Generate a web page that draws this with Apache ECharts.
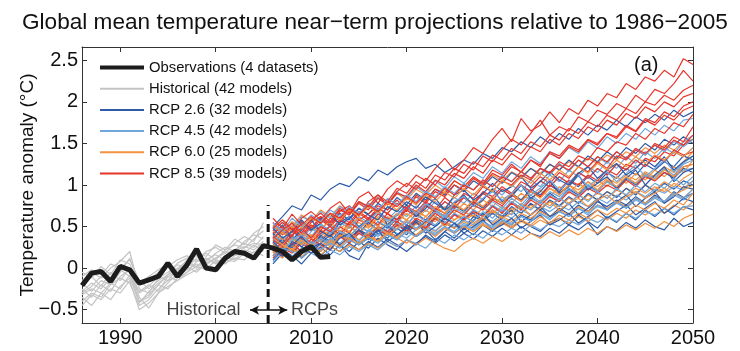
<!DOCTYPE html>
<html>
<head>
<meta charset="utf-8">
<script src="https://cdn.jsdelivr.net/npm/echarts@6.0.0/dist/echarts.min.js"></script>
<style>
html, body { margin: 0; padding: 0; background: #fff; }
#main { width: 740px; height: 351px; }
</style>
</head>
<body>
<div id="main"></div>
<script>
// years
var obsYears = [1986,1987,1988,1989,1990,1991,1992,1993,1994,1995,1996,1997,1998,1999,2000,
  2001,2002,2003,2004,2005,2006,2007,2008,2009,2010,2011,2012];
var histYears = [1986,1987,1988,1989,1990,1991,1992,1993,1994,1995,1996,1997,1998,1999,2000,
  2001,2002,2003,2004,2005];
var rcpYears = [2006,2007,2008,2009,2010,2011,2012,2013,2014,2015,2016,2017,2018,2019,2020,
  2021,2022,2023,2024,2025,2026,2027,2028,2029,2030,2031,2032,2033,2034,2035,
  2036,2037,2038,2039,2040,2041,2042,2043,2044,2045,2046,2047,2048,2049,2050];

var xTicks = [1990, 2000, 2010, 2020, 2030, 2040, 2050];
var yTicks = [-0.5, 0, 0.5, 1, 1.5, 2, 2.5];

// observations (multi-dataset mean), degC
var obs = [-0.21,-0.06,-0.04,-0.16,0.02,-0.02,-0.18,-0.14,-0.10,0.06,-0.10,0.04,0.23,0.00,-0.02,
  0.12,0.20,0.18,0.12,0.27,0.24,0.20,0.10,0.20,0.26,0.13,0.14];

// historical model runs 1986-2005
var hist = [
  [-0.30,-0.22,-0.10,-0.15,0.02,-0.05,-0.40,-0.32,-0.20,-0.08,-0.02,0.05,0.10,0.04,0.12,0.18,0.22,0.30,0.25,0.38],
  [-0.15,-0.05,-0.12,0.00,0.08,0.20,-0.25,-0.30,-0.12,-0.05,0.04,0.00,0.12,0.18,0.10,0.22,0.28,0.24,0.35,0.45],
  [-0.40,-0.30,-0.35,-0.20,-0.12,-0.18,-0.45,-0.38,-0.25,-0.15,-0.10,-0.02,0.05,0.00,0.08,0.05,0.15,0.20,0.14,0.25],
  [-0.05,-0.12,0.02,-0.08,0.10,0.05,-0.20,-0.15,-0.05,0.02,0.10,0.15,0.08,0.20,0.25,0.18,0.30,0.38,0.32,0.55],
  [-0.25,-0.35,-0.20,-0.28,-0.10,-0.02,-0.35,-0.48,-0.30,-0.18,-0.06,0.02,-0.05,0.06,0.12,0.20,0.15,0.25,0.30,0.28],
  [-0.20,-0.10,-0.22,-0.05,-0.15,0.00,-0.30,-0.22,-0.10,-0.15,0.00,0.08,0.02,0.12,0.05,0.15,0.22,0.18,0.28,0.20],
  [-0.35,-0.45,-0.30,-0.38,-0.22,-0.12,-0.40,-0.35,-0.20,-0.25,-0.12,-0.05,0.02,-0.02,0.10,0.06,0.12,0.10,0.20,0.15],
  [-0.10,-0.02,-0.08,0.05,0.00,0.10,-0.15,-0.25,-0.15,-0.08,0.06,0.12,0.20,0.14,0.28,0.22,0.35,0.28,0.42,0.50],
  [-0.28,-0.18,-0.25,-0.12,-0.02,-0.10,-0.28,-0.20,-0.28,-0.10,-0.04,0.06,0.00,0.10,0.16,0.10,0.20,0.26,0.22,0.32],
  [-0.45,-0.32,-0.38,-0.25,-0.30,-0.15,-0.50,-0.42,-0.30,-0.22,-0.15,-0.08,-0.02,0.04,0.00,0.10,0.08,0.18,0.12,0.22],
  [-0.18,-0.28,-0.15,-0.20,-0.05,0.12,-0.18,-0.10,-0.02,0.05,-0.02,0.10,0.15,0.08,0.18,0.25,0.20,0.32,0.40,0.35],
  [-0.32,-0.25,-0.30,-0.18,-0.25,-0.08,-0.42,-0.28,-0.18,-0.10,-0.15,-0.05,0.08,0.12,0.06,0.14,0.10,0.22,0.18,0.30]
];

// RCP 2.6 runs 2006-2050
var rcp26 = [
  [0.50,0.62,0.75,0.70,0.88, 0.82,0.95,1.02,0.98,1.10, 1.05,1.18,1.12,1.22,1.28, 1.32,1.20,1.25,1.15,1.22,
   1.30,1.25,1.38,1.32,1.45, 1.40,1.52,1.45,1.58,1.50, 1.62,1.55,1.68,1.60,1.72, 1.66,1.78,1.70,1.82,1.75, 1.85,1.78,1.90,1.82,1.88],
  [0.35,0.45,0.38,0.55,0.48, 0.60,0.52,0.66,0.58,0.72, 0.65,0.78,0.70,0.85,0.76, 0.90,0.82,0.95,0.88,1.00,
   0.92,1.05,0.98,1.10,1.02, 1.15,1.08,1.20,1.12,1.25, 1.18,1.30,1.22,1.35,1.28, 1.40,1.32,1.45,1.38,1.50, 1.42,1.55,1.48,1.58,1.50],
  [0.15,0.28,0.20,0.35,0.25, 0.40,0.32,0.45,0.38,0.50, 0.44,0.56,0.48,0.60,0.52, 0.65,0.58,0.70,0.62,0.75,
   0.68,0.80,0.72,0.85,0.78, 0.90,0.82,0.95,0.88,1.00, 0.92,1.05,0.98,1.10,1.02, 1.15,1.08,1.20,1.12,1.25, 1.18,1.28,1.22,1.35,1.30],
  [0.05,0.18,0.30,0.12,0.25, 0.20,0.35,0.28,0.15,0.10, 0.30,0.42,0.36,0.48,0.40, 0.55,0.46,0.60,0.52,0.65,
   0.58,0.70,0.62,0.75,0.68, 0.80,0.72,0.85,0.78,0.90, 0.82,0.95,0.88,1.00,0.92, 1.05,0.96,1.08,1.00,1.12, 1.05,1.15,1.08,1.20,1.15],
  [0.42,0.30,0.38,0.25,0.40, 0.32,0.45,0.38,0.50,0.42, 0.55,0.46,0.40,0.52,0.45, 0.58,0.50,0.62,0.55,0.48,
   0.60,0.66,0.58,0.70,0.62, 0.74,0.66,0.78,0.70,0.82, 0.75,0.86,0.78,0.90,0.82, 0.92,0.85,0.96,0.88,1.00, 0.92,1.02,0.95,1.05,1.00],
  [0.25,0.35,0.22,0.32,0.28, 0.38,0.30,0.42,0.35,0.46, 0.40,0.50,0.44,0.38,0.52, 0.46,0.56,0.50,0.60,0.54,
   0.48,0.62,0.56,0.66,0.58, 0.52,0.64,0.58,0.70,0.62, 0.72,0.65,0.76,0.68,0.80, 0.74,0.82,0.76,0.86,0.78, 0.88,0.80,0.92,0.85,0.90],
  [0.10,0.22,0.15,0.05,0.18, 0.25,0.16,0.28,0.20,0.32, 0.24,0.36,0.28,0.22,0.34, 0.28,0.40,0.32,0.44,0.36,
   0.48,0.40,0.52,0.44,0.56, 0.48,0.58,0.50,0.44,0.55, 0.60,0.52,0.64,0.56,0.48, 0.62,0.55,0.66,0.58,0.70, 0.62,0.72,0.64,0.74,0.70],
  [0.30,0.18,0.25,0.12,0.22, 0.15,0.26,0.20,0.30,0.22, 0.32,0.25,0.35,0.28,0.20, 0.30,0.38,0.30,0.40,0.33,
   0.42,0.35,0.45,0.38,0.48, 0.40,0.50,0.42,0.38,0.48, 0.42,0.52,0.46,0.55,0.40, 0.50,0.45,0.55,0.48,0.58, 0.50,0.46,0.60,0.50,0.55],
  [0.40,0.52,0.34,0.46,0.58, 0.44,0.38,0.55,0.62,0.50, 0.58,0.70,0.52,0.64,0.76, 0.62,0.72,0.84,0.70,0.78,
   0.88,0.74,0.82,0.95,0.80, 0.86,1.00,0.84,0.92,1.05, 0.90,0.98,1.12,0.94,1.02, 1.10,0.96,1.08,1.18,1.00, 1.12,1.22,1.04,1.15,1.20],
  [0.22,0.14,0.32,0.26,0.18, 0.30,0.40,0.28,0.36,0.46, 0.34,0.44,0.52,0.40,0.48, 0.56,0.42,0.50,0.60,0.54,
   0.46,0.58,0.66,0.52,0.60, 0.70,0.56,0.64,0.74,0.62, 0.68,0.78,0.64,0.72,0.82, 0.70,0.80,0.88,0.74,0.84, 0.92,0.78,0.86,0.98,0.95],
  [0.48,0.36,0.44,0.58,0.46, 0.54,0.66,0.52,0.60,0.72, 0.64,0.58,0.74,0.68,0.80, 0.72,0.86,0.78,0.70,0.88,
   0.94,0.82,0.90,1.02,0.92, 0.98,1.10,0.96,1.04,1.16, 1.06,1.00,1.14,1.22,1.08, 1.18,1.26,1.12,1.20,1.30, 1.22,1.34,1.18,1.28,1.35],
  [0.32,0.20,0.28,0.38,0.24, 0.30,0.22,0.36,0.42,0.28, 0.36,0.46,0.32,0.40,0.50, 0.38,0.46,0.34,0.44,0.54,
   0.42,0.50,0.58,0.46,0.52, 0.60,0.48,0.56,0.64,0.52, 0.58,0.66,0.54,0.62,0.70, 0.60,0.68,0.76,0.64,0.72, 0.80,0.66,0.74,0.84,0.80]
];

// RCP 4.5 runs
var rcp45 = [
  [0.45,0.55,0.48,0.62,0.56, 0.68,0.60,0.74,0.66,0.80, 0.72,0.85,0.78,0.92,0.84, 0.98,0.90,1.05,0.96,1.10,
   1.02,1.15,1.08,1.22,1.14, 1.28,1.20,1.34,1.26,1.40, 1.32,1.45,1.38,1.52,1.44, 1.58,1.50,1.62,1.55,1.68, 1.60,1.72,1.65,1.78,1.80],
  [0.28,0.38,0.32,0.45,0.36, 0.50,0.42,0.55,0.48,0.60, 0.52,0.65,0.58,0.70,0.62, 0.75,0.68,0.80,0.72,0.85,
   0.78,0.90,0.82,0.96,0.88, 1.00,0.92,1.06,0.98,1.12, 1.04,1.18,1.10,1.22,1.15, 1.28,1.20,1.34,1.26,1.40, 1.32,1.45,1.38,1.52,1.60],
  [0.50,0.40,0.55,0.45,0.38, 0.52,0.46,0.58,0.50,0.62, 0.55,0.68,0.60,0.54,0.70, 0.64,0.76,0.68,0.80,0.72,
   0.85,0.78,0.90,0.82,0.95, 0.88,1.00,0.92,1.05,0.98, 1.10,1.02,1.15,1.08,1.20, 1.12,1.25,1.18,1.30,1.22, 1.35,1.28,1.40,1.34,1.45],
  [0.18,0.30,0.24,0.36,0.28, 0.22,0.34,0.40,0.32,0.44, 0.38,0.48,0.42,0.54,0.46, 0.58,0.50,0.62,0.55,0.66,
   0.60,0.70,0.64,0.76,0.68, 0.80,0.72,0.84,0.78,0.88, 0.82,0.94,0.86,0.98,0.92, 1.04,0.96,1.08,1.02,1.14, 1.08,1.20,1.12,1.25,1.30],
  [0.40,0.32,0.44,0.36,0.48, 0.40,0.52,0.45,0.38,0.50, 0.44,0.56,0.50,0.60,0.52, 0.64,0.56,0.68,0.60,0.72,
   0.66,0.76,0.70,0.80,0.72, 0.84,0.76,0.88,0.80,0.92, 0.86,0.96,0.90,1.00,0.94, 1.04,0.98,1.08,1.02,1.12, 1.06,1.15,1.10,1.18,1.20],
  [0.22,0.15,0.28,0.20,0.32, 0.26,0.36,0.30,0.40,0.34, 0.44,0.38,0.48,0.42,0.36, 0.46,0.52,0.45,0.55,0.50,
   0.58,0.52,0.62,0.56,0.66, 0.60,0.70,0.64,0.74,0.68, 0.76,0.70,0.80,0.74,0.84, 0.78,0.88,0.82,0.92,0.86, 0.95,0.90,0.98,0.94,1.05],
  [0.35,0.26,0.38,0.30,0.24, 0.34,0.28,0.38,0.32,0.42, 0.36,0.46,0.40,0.34,0.44, 0.38,0.48,0.42,0.50,0.44,
   0.54,0.48,0.56,0.50,0.60, 0.54,0.62,0.56,0.66,0.60, 0.68,0.62,0.72,0.66,0.74, 0.70,0.78,0.72,0.82,0.76, 0.84,0.78,0.88,0.82,0.90],
  [0.08,0.20,0.14,0.24,0.18, 0.12,0.22,0.16,0.26,0.20, 0.28,0.22,0.32,0.26,0.34, 0.30,0.24,0.36,0.30,0.40,
   0.34,0.42,0.36,0.46,0.40, 0.48,0.42,0.52,0.46,0.54, 0.50,0.58,0.52,0.60,0.55, 0.62,0.56,0.66,0.60,0.68, 0.64,0.72,0.66,0.74,0.75],
  [0.36,0.48,0.40,0.30,0.44, 0.54,0.42,0.50,0.62,0.48, 0.58,0.68,0.56,0.64,0.74, 0.66,0.78,0.70,0.62,0.80,
   0.86,0.74,0.84,0.92,0.82, 0.90,1.00,0.88,0.96,1.06, 0.94,1.04,1.12,0.98,1.08, 1.16,1.04,1.14,1.24,1.10, 1.20,1.30,1.16,1.26,1.35],
  [0.26,0.18,0.34,0.40,0.28, 0.36,0.30,0.44,0.38,0.32, 0.46,0.40,0.52,0.46,0.56, 0.48,0.58,0.52,0.64,0.54,
   0.62,0.56,0.68,0.60,0.72, 0.64,0.76,0.70,0.80,0.72, 0.84,0.76,0.88,0.80,0.92, 0.84,0.96,0.88,1.00,0.92, 1.02,0.96,1.08,1.00,1.10],
  [0.54,0.44,0.60,0.50,0.64, 0.56,0.70,0.62,0.74,0.66, 0.78,0.70,0.84,0.76,0.88, 0.80,0.92,0.86,0.98,0.90,
   1.02,0.94,1.06,0.98,1.12, 1.04,1.16,1.08,1.20,1.12, 1.26,1.16,1.30,1.22,1.34, 1.26,1.40,1.32,1.44,1.36, 1.48,1.40,1.52,1.46,1.55],
  [0.14,0.24,0.20,0.12,0.26, 0.22,0.30,0.24,0.34,0.28, 0.36,0.30,0.40,0.34,0.44, 0.38,0.46,0.40,0.50,0.42,
   0.52,0.46,0.56,0.48,0.58, 0.52,0.62,0.56,0.66,0.58, 0.68,0.62,0.72,0.64,0.76, 0.70,0.80,0.72,0.84,0.76, 0.86,0.80,0.90,0.84,0.95]
];

// RCP 6.0 runs
var rcp60 = [
  [0.48,0.58,0.50,0.64,0.56, 0.70,0.62,0.75,0.68,0.80, 0.74,0.85,0.78,0.90,0.82, 0.95,0.88,1.00,0.92,1.05,
   0.98,1.08,1.02,1.12,1.05, 1.16,1.10,1.20,1.14,1.25, 1.18,1.28,1.22,1.32,1.26, 1.36,1.30,1.40,1.34,1.45, 1.38,1.48,1.42,1.52,1.55],
  [0.25,0.36,0.30,0.42,0.34, 0.46,0.40,0.50,0.44,0.55, 0.48,0.60,0.52,0.64,0.58, 0.68,0.62,0.72,0.66,0.76,
   0.70,0.80,0.74,0.84,0.78, 0.88,0.82,0.92,0.86,0.96, 0.90,1.00,0.94,1.04,0.98, 1.08,1.02,1.12,1.06,1.16, 1.10,1.22,1.15,1.28,1.40],
  [0.40,0.30,0.45,0.38,0.50, 0.42,0.36,0.48,0.55,0.46, 0.58,0.50,0.62,0.55,0.66, 0.58,0.70,0.62,0.74,0.66,
   0.78,0.70,0.82,0.74,0.86, 0.78,0.90,0.82,0.94,0.86, 0.98,0.90,1.02,0.94,1.06, 0.98,1.10,1.02,1.14,1.06, 1.18,1.10,1.22,1.15,1.30],
  [0.15,0.26,0.20,0.32,0.24, 0.36,0.28,0.40,0.34,0.44, 0.38,0.48,0.42,0.52,0.46, 0.56,0.50,0.60,0.54,0.48,
   0.58,0.64,0.56,0.68,0.62, 0.72,0.66,0.76,0.70,0.80, 0.74,0.84,0.78,0.88,0.82, 0.92,0.86,0.96,0.90,1.00, 0.94,1.04,0.98,1.08,1.15],
  [0.32,0.42,0.36,0.28,0.40, 0.34,0.46,0.38,0.50,0.42, 0.52,0.46,0.56,0.50,0.58, 0.52,0.62,0.56,0.66,0.58,
   0.68,0.62,0.72,0.66,0.74, 0.68,0.78,0.72,0.82,0.75, 0.84,0.78,0.88,0.82,0.90, 0.84,0.94,0.88,0.96,0.90, 0.98,0.92,1.02,0.96,1.05],
  [0.20,0.12,0.25,0.18,0.30, 0.24,0.34,0.28,0.38,0.30, 0.40,0.34,0.44,0.38,0.46, 0.40,0.50,0.44,0.54,0.48,
   0.56,0.50,0.60,0.54,0.62, 0.56,0.66,0.60,0.68,0.62, 0.70,0.64,0.74,0.68,0.76, 0.72,0.80,0.74,0.84,0.78, 0.86,0.80,0.90,0.84,0.95],
  [0.36,0.28,0.40,0.32,0.26, 0.36,0.30,0.40,0.34,0.28, 0.38,0.32,0.42,0.36,0.44, 0.38,0.46,0.40,0.48,0.42,
   0.50,0.44,0.52,0.46,0.54, 0.48,0.56,0.50,0.58,0.52, 0.60,0.54,0.62,0.56,0.64, 0.58,0.66,0.60,0.70,0.64, 0.72,0.66,0.76,0.70,0.80],
  [0.28,0.18,0.24,0.14,0.22, 0.16,0.26,0.20,0.28,0.22, 0.30,0.24,0.32,0.26,0.34, 0.28,0.36,0.30,0.24,0.20,
   0.30,0.36,0.30,0.38,0.32, 0.40,0.34,0.42,0.36,0.44, 0.38,0.46,0.40,0.48,0.42, 0.50,0.44,0.52,0.46,0.54, 0.48,0.56,0.50,0.60,0.65],
  [0.44,0.34,0.50,0.42,0.36, 0.48,0.56,0.44,0.52,0.60, 0.50,0.62,0.56,0.66,0.58, 0.70,0.62,0.74,0.66,0.78,
   0.70,0.82,0.74,0.86,0.78, 0.90,0.80,0.92,0.84,0.96, 0.88,1.00,0.90,1.04,0.94, 1.06,0.98,1.10,1.02,1.14, 1.06,1.18,1.10,1.22,1.25],
  [0.30,0.22,0.36,0.28,0.40, 0.32,0.26,0.38,0.44,0.34, 0.42,0.50,0.40,0.48,0.56, 0.46,0.54,0.62,0.50,0.58,
   0.64,0.54,0.62,0.70,0.60, 0.66,0.74,0.64,0.72,0.80, 0.70,0.78,0.84,0.74,0.82, 0.88,0.78,0.86,0.92,0.84, 0.90,0.96,0.88,0.94,1.00],
  [0.52,0.42,0.56,0.48,0.60, 0.54,0.66,0.58,0.70,0.62, 0.74,0.66,0.78,0.70,0.84, 0.76,0.88,0.80,0.92,0.84,
   0.96,0.88,1.00,0.92,1.06, 0.98,1.10,1.02,1.14,1.06, 1.18,1.10,1.22,1.14,1.26, 1.18,1.30,1.22,1.34,1.26, 1.36,1.30,1.40,1.34,1.45],
  [0.18,0.28,0.22,0.34,0.26, 0.20,0.32,0.26,0.36,0.30, 0.38,0.32,0.42,0.36,0.30, 0.40,0.46,0.38,0.48,0.42,
   0.50,0.44,0.54,0.46,0.56, 0.50,0.58,0.52,0.62,0.54, 0.64,0.58,0.66,0.60,0.70, 0.64,0.72,0.66,0.76,0.70, 0.78,0.72,0.82,0.76,0.90]
];

// RCP 8.5 runs
var rcp85 = [
  [0.45,0.55,0.42,0.60,0.68, 0.58,0.72,0.80,0.66,0.85, 0.92,0.78,0.95,1.05,0.98, 1.12,1.05,1.20,1.32,1.18,
   1.30,1.45,1.38,1.55,1.68, 1.52,1.80,1.65,1.72,1.88, 1.75,1.92,1.85,2.02,1.95, 2.10,2.05,2.22,2.15,2.30, 2.25,2.38,2.30,2.52,2.45],
  [0.30,0.42,0.50,0.38,0.55, 0.62,0.50,0.68,0.75,0.63, 0.80,0.88,0.76,0.92,1.02, 0.95,1.08,1.00,1.15,1.10,
   1.25,1.18,1.35,1.28,1.42, 1.55,1.48,1.62,1.78,1.60, 1.70,1.65,1.82,1.76,1.90, 1.85,1.98,1.92,2.08,2.00, 2.15,2.10,2.22,2.38,2.25],
  [0.55,0.40,0.48,0.35,0.52, 0.45,0.60,0.55,0.70,0.58, 0.65,0.75,0.70,0.82,0.68, 0.88,0.80,0.95,0.90,1.05,
   0.98,1.10,1.02,1.18,1.12, 1.25,1.15,1.30,1.22,1.40, 1.35,1.48,1.42,1.55,1.50, 1.62,1.58,1.72,1.65,1.80, 1.75,1.88,1.82,1.95,2.00],
  [0.20,0.32,0.25,0.40,0.30, 0.45,0.38,0.50,0.42,0.58, 0.52,0.65,0.60,0.55,0.72, 0.66,0.78,0.70,0.85,0.76,
   0.90,0.84,0.98,0.92,1.05, 1.00,1.12,1.06,1.20,1.15, 1.28,1.22,1.35,1.30,1.45, 1.40,1.52,1.48,1.62,1.55, 1.68,1.62,1.75,1.70,1.85],
  [0.38,0.28,0.45,0.36,0.30, 0.42,0.50,0.40,0.55,0.48, 0.60,0.52,0.66,0.58,0.70, 0.62,0.75,0.68,0.80,0.72,
   0.85,0.78,0.92,0.86,0.98, 0.90,1.04,0.98,1.10,1.02, 1.15,1.08,1.22,1.16,1.28, 1.20,1.35,1.30,1.42,1.36, 1.50,1.45,1.58,1.52,1.70],
  [0.12,0.25,0.18,0.30,0.22, 0.35,0.28,0.40,0.32,0.45, 0.38,0.50,0.44,0.56,0.48, 0.60,0.54,0.66,0.58,0.70,
   0.64,0.76,0.70,0.82,0.75, 0.88,0.80,0.92,0.86,1.00, 0.94,1.06,1.00,1.12,1.05, 1.18,1.12,1.25,1.20,1.32, 1.28,1.40,1.35,1.48,1.55],
  [0.60,0.48,0.65,0.52,0.45, 0.58,0.50,0.62,0.55,0.68, 0.60,0.72,0.65,0.58,0.74, 0.68,0.80,0.72,0.66,0.78,
   0.85,0.76,0.90,0.82,0.95, 0.88,1.00,0.92,1.05,0.98, 1.10,1.02,1.15,1.08,1.20, 1.12,1.25,1.18,1.30,1.22, 1.35,1.28,1.42,1.36,1.40],
  [0.25,0.15,0.30,0.20,0.35, 0.28,0.22,0.38,0.30,0.42, 0.35,0.46,0.40,0.52,0.44, 0.55,0.48,0.60,0.52,0.64,
   0.58,0.68,0.62,0.74,0.66, 0.78,0.70,0.82,0.75,0.86, 0.80,0.92,0.85,0.96,0.90, 1.00,0.94,1.06,0.98,1.10, 1.05,1.15,1.10,1.22,1.25],
  [0.42,0.50,0.38,0.56,0.48, 0.62,0.54,0.70,0.64,0.78, 0.70,0.84,0.76,0.90,0.86, 1.00,0.92,1.06,1.00,1.14,
   1.08,1.22,1.14,1.30,1.24, 1.38,1.30,1.46,1.40,1.55, 1.48,1.62,1.56,1.70,1.64, 1.78,1.72,1.86,1.80,1.94, 1.88,2.00,1.94,2.06,2.10],
  [0.34,0.26,0.40,0.48,0.36, 0.50,0.44,0.58,0.52,0.66, 0.58,0.72,0.66,0.78,0.72, 0.86,0.78,0.92,0.86,1.00,
   0.94,1.08,1.00,1.14,1.08, 1.22,1.16,1.30,1.24,1.38, 1.32,1.46,1.40,1.54,1.48, 1.62,1.56,1.70,1.64,1.78, 1.72,1.84,1.78,1.90,1.95],
  [0.48,0.58,0.46,0.52,0.62, 0.54,0.66,0.60,0.72,0.64, 0.76,0.68,0.80,0.74,0.86, 0.78,0.90,0.84,0.96,0.88,
   1.00,0.94,1.06,0.98,1.10, 1.04,1.16,1.08,1.20,1.14, 1.24,1.18,1.30,1.22,1.34, 1.28,1.40,1.32,1.44,1.38, 1.48,1.42,1.54,1.48,1.60],
  [0.36,0.46,0.54,0.42,0.58, 0.66,0.56,0.72,0.64,0.80, 0.74,0.88,0.80,0.96,0.90, 1.04,0.96,1.12,1.06,1.20,
   1.14,1.28,1.22,1.36,1.30, 1.44,1.38,1.52,1.46,1.60, 1.54,1.68,1.62,1.76,1.70, 1.84,1.78,1.92,1.86,2.00, 1.96,2.08,2.02,2.14,2.20]
];

// divider between historical and scenario periods
var splitYear = 2005.5;
var splitTop = 0.76;
var yMin = -0.66, yMax = 2.66;

var FONT = '"Liberation Sans", Arial, Helvetica, sans-serif';
var names = ['Observations (4 datasets)', 'Historical (42 models)', 'RCP 2.6 (32 models)',
  'RCP 4.5 (42 models)', 'RCP 6.0 (25 models)', 'RCP 8.5 (39 models)'];
var colors = ['#1c1c1c', '#c4c4c4', '#2d5ba8', '#6fa6dc', '#f39240', '#e8352b'];

function toPairs(years, vals) {
    return vals.map(function (v, i) { return [years[i], v]; });
}
function modelLine(name, color, years, vals) {
    return {
        name: name, type: 'line', symbol: 'none', silent: true, z: 2,
        lineStyle: { color: color, width: 1.2 },
        itemStyle: { color: color },
        data: toPairs(years, vals)
    };
}

var myChart = echarts.init(document.getElementById('main'));

var series = [];
hist.forEach(function (h) { series.push(modelLine(names[1], colors[1], histYears, h)); });
for (var i = 0; i < rcp26.length; i++) {
    series.push(modelLine(names[2], colors[2], rcpYears, rcp26[i]));
    series.push(modelLine(names[4], colors[4], rcpYears, rcp60[i]));
    series.push(modelLine(names[3], colors[3], rcpYears, rcp45[i]));
    series.push(modelLine(names[5], colors[5], rcpYears, rcp85[i]));
}
series.push({
    name: names[0], type: 'line', symbol: 'none', silent: true, z: 5,
    lineStyle: { color: colors[0], width: 5 },
    itemStyle: { color: colors[0] },
    data: toPairs(obsYears, obs)
});
// dashed divider + arrow
series.push({
    type: 'line', symbol: 'none', silent: true, z: 6,
    lineStyle: { color: '#111', width: 3, type: [8, 5] },
    data: [[splitYear, yMin], [splitYear, splitTop]],
    markLine: {
        silent: true, symbol: ['arrow', 'arrow'], symbolSize: [7, 9],
        label: { show: false },
        lineStyle: { color: '#111', width: 1.5, type: 'solid' },
        data: [[{ coord: [2003.6, -0.505] }, { coord: [2007.5, -0.505] }]]
    }
});
series.push({
    type: 'scatter', symbolSize: 0, silent: true, z: 6,
    data: [
        { value: [2002.6, -0.505], label: { position: 'left', formatter: 'Historical' } },
        { value: [2007.9, -0.505], label: { position: 'right', formatter: 'RCPs' } }
    ],
    label: { show: true, distance: 0, fontSize: 18, color: '#111', fontFamily: FONT }
});

var tickStyle = { inside: true, length: 5, lineStyle: { color: '#333' } };
var lineStyleAx = { onZero: false, lineStyle: { color: '#333', width: 1 } };

option = {
    animation: false,
    backgroundColor: '#fff',
    title: [{
        text: 'Global mean temperature near\u2212term projections relative to 1986\u22122005',
        left: 17, top: 6,
        textStyle: { fontSize: 22.6, fontWeight: 'normal', color: '#111', fontFamily: FONT }
    }, {
        text: '(a)', left: 629, top: 50,
        textStyle: { fontSize: 20, fontWeight: 'normal', color: '#111', fontFamily: FONT }
    }],
    legend: {
        orient: 'vertical', left: 93, top: 55,
        itemWidth: 44, itemHeight: 14, itemGap: 6.2,
        selectedMode: false,
        itemStyle: { opacity: 0 },
        textStyle: { fontSize: 14.8, color: '#111', fontFamily: FONT },
        data: names.map(function (n, k) {
            return { name: n, lineStyle: { width: k === 0 ? 4 : 2 } };
        })
    },
    grid: { left: 82, right: 47, top: 47, bottom: 28 },
    xAxis: [{
        type: 'value', min: 1986, max: 2050, position: 'bottom',
        axisLine: lineStyleAx,
        axisTick: Object.assign({ customValues: xTicks }, tickStyle),
        axisLabel: {
            customValues: xTicks, fontSize: 20, color: '#111', margin: 5, fontFamily: FONT,
            formatter: function (v) { return String(v); }
        },
        splitLine: { show: false }
    }, {
        type: 'value', min: 1986, max: 2050, position: 'top',
        axisLine: lineStyleAx,
        axisTick: Object.assign({ customValues: xTicks }, tickStyle),
        axisLabel: { show: false },
        splitLine: { show: false }
    }],
    yAxis: [{
        type: 'value', min: yMin, max: yMax, position: 'left',
        name: 'Temperature anomaly (\u00b0C)', nameLocation: 'middle', nameGap: 45,
        nameMoveOverlap: false,
        nameTextStyle: { fontSize: 19, color: '#111', fontFamily: FONT },
        axisLine: { show: true, onZero: false, lineStyle: { color: '#333', width: 1 } },
        axisTick: Object.assign({ show: true, customValues: yTicks }, tickStyle),
        axisLabel: {
            customValues: yTicks, fontSize: 20, color: '#111', margin: 4, fontFamily: FONT,
            formatter: function (v) { return String(v).replace('-', '\u2212'); }
        },
        splitLine: { show: false }
    }, {
        type: 'value', min: yMin, max: yMax, position: 'right',
        axisLine: { show: true, onZero: false, lineStyle: { color: '#333', width: 1 } },
        axisTick: Object.assign({ show: true, customValues: yTicks }, tickStyle),
        axisLabel: { show: false },
        splitLine: { show: false }
    }],
    series: series
};

myChart.setOption(option);
window.addEventListener('resize', function () {
    myChart.resize();
});
</script>
</body>
</html>
